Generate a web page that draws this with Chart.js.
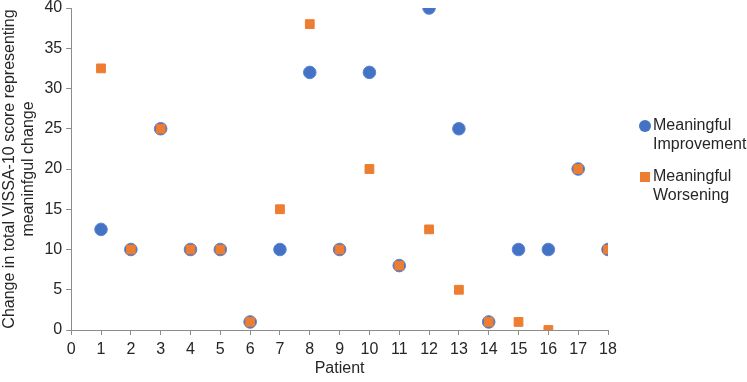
<!DOCTYPE html>
<html>
<head>
<meta charset="utf-8">
<script src="https://cdn.jsdelivr.net/npm/chart.js@4/dist/chart.umd.min.js"></script>
<style>
html,body{margin:0;padding:0;background:#fff;}
#wrap{position:relative;width:747px;height:382px;}
</style>
</head>
<body>
<div id="wrap"><canvas id="c" width="747" height="382"></canvas></div>
<script>
const patients = [1,2,3,4,5,6,7,8,9,10,11,12,13,14,15,16,17,18];
const improvement = [12.5,10,25,10,10,1,10,32,10,32,8,40,25,1,10,10,20,10];
const worsening = [32.5,10,25,10,10,1,15,38,10,20,8,12.5,5,1,1,0,20,10];
const seriesNames = [["Meaningful","Improvement"],["Meaningful","Worsening"]];
const xTitle = "Patient";
const yTitle = ["Change in total VISSA-10 score representing","meaninfgul change"];

const textColor = '#262626';
const axisColor = '#8c8c8c';
const FAM = '"Liberation Sans", Arial, sans-serif';

const legendPlugin = {
  id: 'customLegend',
  afterDraw(chart) {
    const ctx = chart.ctx;
    ctx.save();
    ctx.font = '16px ' + FAM;
    ctx.textBaseline = 'middle';
    const x0 = 645, tx = 653;
    const ys = [126, 177];
    chart.data.datasets.forEach((ds, i) => {
      const y = ys[i];
      ctx.fillStyle = ds.backgroundColor;
      if (ds.pointStyle === 'circle') {
        ctx.beginPath(); ctx.arc(x0, y, 6, 0, Math.PI*2); ctx.fill();
      } else {
        ctx.fillRect(x0-5, y-5, 10, 10);
      }
      ctx.fillStyle = textColor;
      ds.legendLines.forEach((t, j) => ctx.fillText(t, tx, y + j*18.5));
    });
    ctx.restore();
  }
};

new Chart(document.getElementById('c'), {
  type: 'scatter',
  data: {
    datasets: [
      {
        label: seriesNames[0].join(' '),
        legendLines: seriesNames[0],
        data: patients.map((p,i)=>({x:p,y:improvement[i]})),
        pointStyle: 'circle',
        pointRadius: 6.3,
        backgroundColor: '#4472C4',
        borderColor: '#5b86d2',
        borderWidth: 1,
        order: 1
      },
      {
        label: seriesNames[1].join(' '),
        legendLines: seriesNames[1],
        data: patients.map((p,i)=>({x:p,y:worsening[i]})),
        pointStyle: 'rect',
        pointRadius: 6.2,
        backgroundColor: '#ED7D31',
        borderColor: '#ED7D31',
        borderWidth: 1,
        order: 0
      }
    ]
  },
  options: {
    responsive: false,
    animation: false,
    layout: { padding: { left: 0, right: 139, top: 7, bottom: 5 } },
    plugins: { legend: { display: false }, tooltip: { enabled: false } },
    scales: {
      x: {
        type: 'linear', min: 0, max: 18,
        ticks: { stepSize: 1, color: textColor, font: { size: 16, family: FAM, lineHeight: 0.25 }, padding: 13 },
        grid: { drawOnChartArea: false, drawTicks: true, tickLength: 5, color: axisColor },
        border: { color: axisColor, width: 1 },
        title: { display: true, text: xTitle, color: textColor, font: { size: 16, family: FAM, lineHeight: 1 }, padding: { top: -4, bottom: 0 } }
      },
      y: {
        min: 0, max: 40,
        ticks: { stepSize: 5, color: textColor, font: { size: 16, family: FAM, lineHeight: 0.5 }, padding: 4 },
        grid: { drawOnChartArea: false, drawTicks: true, tickLength: 5, color: axisColor },
        border: { color: axisColor, width: 1 },
        title: { display: true, text: yTitle, color: textColor, font: { size: 16, family: FAM, lineHeight: 1.2 }, padding: { top: 0, bottom: 2 } }
      }
    }
  },
  plugins: [legendPlugin]
});
</script>
</body>
</html>
